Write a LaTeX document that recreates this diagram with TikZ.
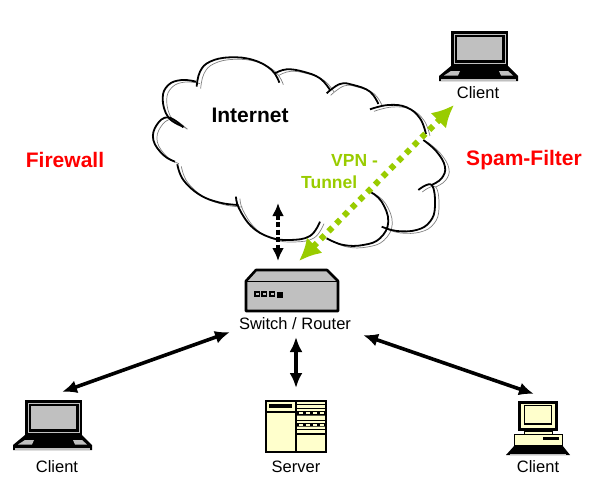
\documentclass[tikz,border=0pt]{standalone}
\usepackage{fontspec}
\setmainfont{Liberation Sans}
\usetikzlibrary{arrows.meta}
\definecolor{vpn}{HTML}{99CC00}
\definecolor{cream}{HTML}{FFFFCC}
\definecolor{lgray}{HTML}{C0C0C0}
\newcommand{\lobe}[2]{\draw[#1] plot[smooth,tension=.7] coordinates {#2};}
\newcommand{\cloudlobes}[1]{%
  \lobe{#1}{(130,292)(85,262)(50,285)(40,330)(70,375)(105,395)}
  \lobe{#1}{(112,403)(130,450)(180,495)(240,518)(295,525)}
  \lobe{#1}{(288,500)(297,535)(335,590)(390,622)(450,630)(510,618)(540,575)}
  \lobe{#1}{(560,625)(610,645)(670,645)(720,625)(745,575)(725,515)(690,485)}
  \lobe{#1}{(725,590)(770,603)(830,600)(870,575)(885,530)(875,465)(835,480)}
  \lobe{#1}{(875,465)(905,445)(915,410)(890,365)(850,330)}
  \lobe{#1}{(858,312)(840,265)(800,232)(745,225)(690,238)}
  \lobe{#1}{(715,222)(690,185)(640,165)(600,162)(560,190)}
  \lobe{#1}{(570,180)(540,145)(490,125)(440,118)(405,130)}
  \lobe{#1}{(418,158)(395,120)(340,90)(270,82)(210,95)(180,125)(170,170)}
  \lobe{#1}{(168,155)(125,150)(85,165)(68,205)(85,262)(130,290)}
}
\tikzset{
 x=1pt,y=-1pt,
 lbl/.style={font=\fontsize{16.5}{18}\selectfont,inner sep=0pt},
 hot/.style={font=\bfseries\fontsize{21}{24}\selectfont,text=red,inner sep=0pt},
 grn/.style={inner sep=0pt,text=vpn,font=\bfseries\fontsize{17.5}{20}\selectfont,anchor=west},
 conn/.style={line width=3.6pt,{Latex[length=15pt,width=13pt]}-{Latex[length=15pt,width=13pt]}},
 pics/laptop/.style={code={
  \fill[black] (0,0) rectangle (57,35);
  \draw[lgray,line width=1pt] (3,3) rectangle (54,32);
  \fill[lgray] (6,6) rectangle (51,29);
  \fill[black] (0,35)--(57,35)--(67,45)--(67,50)--(-12,50)--(-12,45)--cycle;
  \fill[lgray] (-7,44.5)--(0,40)--(9,40)--(7,44.5)--cycle;
  \fill[lgray] (62,44.5)--(57,40)--(48,40)--(50,44.5)--cycle;
  \fill[lgray] (-10,47.5) rectangle (65,50);
 }},
}
\begin{document}
\begin{tikzpicture}
\useasboundingbox (0,0) rectangle (596,482);
% cloud
\begin{scope}[shift={(140,30)},x=.3333pt,y=-.3333pt]
 \begin{scope}[shift={(12,6)}]
  \cloudlobes{gray,line width=.7pt}
 \end{scope}
 \cloudlobes{black,line width=1.8pt}
\end{scope}
% switch
\filldraw[fill=lgray,draw=black,line width=2.6pt,line join=round] (246,281)--(256,270)--(327,270)--(338,281)--(338,311)--(246,311)--cycle;
\draw[line width=1pt] (246,281)--(338,281);
\foreach \x in {255,262,270}{\filldraw[fill=lgray,draw=black,line width=1.2pt] (\x,292) rectangle +(4.5,4);}
\fill[black] (277,291.5) rectangle +(5.5,6);
% laptops
\pic at (25,400) {laptop};
\pic at (451,31) {laptop};
% server
\filldraw[fill=cream,draw=black,line width=2.4pt] (266,401) rectangle (326,452);
\draw[line width=1.2pt] (296,401)--(296,452) (266,412)--(296,412) (296,434)--(326,434);
\fill[black] (269,404) rectangle (292,407.5);
\draw[line width=.8pt] (296,404.5)--(326,404.5) (296,408)--(326,408) (296,420)--(326,420) (296,429.5)--(326,429.5);
\fill[black] (296,411) rectangle (326,415.5) (296,423) rectangle (326,426.5);
\foreach \x in {299,306,313,320}{\fill[cream] (\x,412) rectangle +(3.5,2);\fill[cream] (\x,424) rectangle +(3.5,1.5);}
% desktop
\filldraw[fill=cream,draw=black,line width=3pt] (519,402) rectangle (556,429);
\draw[line width=1.2pt] (524.5,405.5) rectangle (551.5,424);
\filldraw[fill=cream,draw=black,line width=.8pt] (524,431) rectangle (552,434);
\filldraw[fill=cream,draw=black,line width=.8pt] (514.5,434) rectangle (562.5,448);
\fill[black] (543,437) rectangle (559,439.5);
\fill[black] (515,445)--(562,445)--(570,455)--(506,455)--cycle;
\draw[lgray,line width=.8pt] (510,454.5)--(566,454.5);
% labels
\node[lbl] (clienttop) at (478,93) {Client};
\node[lbl] (clientleft) at (57,467) {Client};
\node[lbl] (server) at (296,467) {Server};
\node[lbl] (clientright) at (538,467) {Client};
\node[lbl] (switch) at (295,324) {Switch / Router};
\node[hot] (firewall) at (65,160) {Firewall};
\node[hot] (spam) at (524,160) {Spam-Filter};
\node[inner sep=0pt,font=\bfseries\fontsize{21}{24}\selectfont] (internet) at (250,115) {Internet};
\node[grn] (vpnl) at (331,160) {VPN -};
\node[grn] (tunnel) at (301,182) {Tunnel};
% connector ends
\coordinate (a1) at (62,392); \coordinate (a2) at (230,332);
\coordinate (b1) at (296,337); \coordinate (b2) at (296,388);
\coordinate (c1) at (363,335); \coordinate (c2) at (534,394);
\coordinate (d1) at (278,203); \coordinate (d2) at (278,261);
\coordinate (e1) at (299,261); \coordinate (e2) at (454,105);
\draw[conn] (a1)--(a2);
\draw[conn] (b1)--(b2);
\draw[conn] (c1)--(c2);
\draw[line width=3.6pt,dash pattern=on 5pt off 2.5pt,{Latex[length=13pt,width=12pt]}-{Latex[length=13pt,width=12pt]}] (d1)--(d2);
\draw[vpn,line width=6pt,dash pattern=on 5.5pt off 5.5pt,{Latex[length=22pt,width=22pt]}-{Latex[length=22pt,width=22pt]}] (e1)--(e2);
\end{tikzpicture}
\end{document}
